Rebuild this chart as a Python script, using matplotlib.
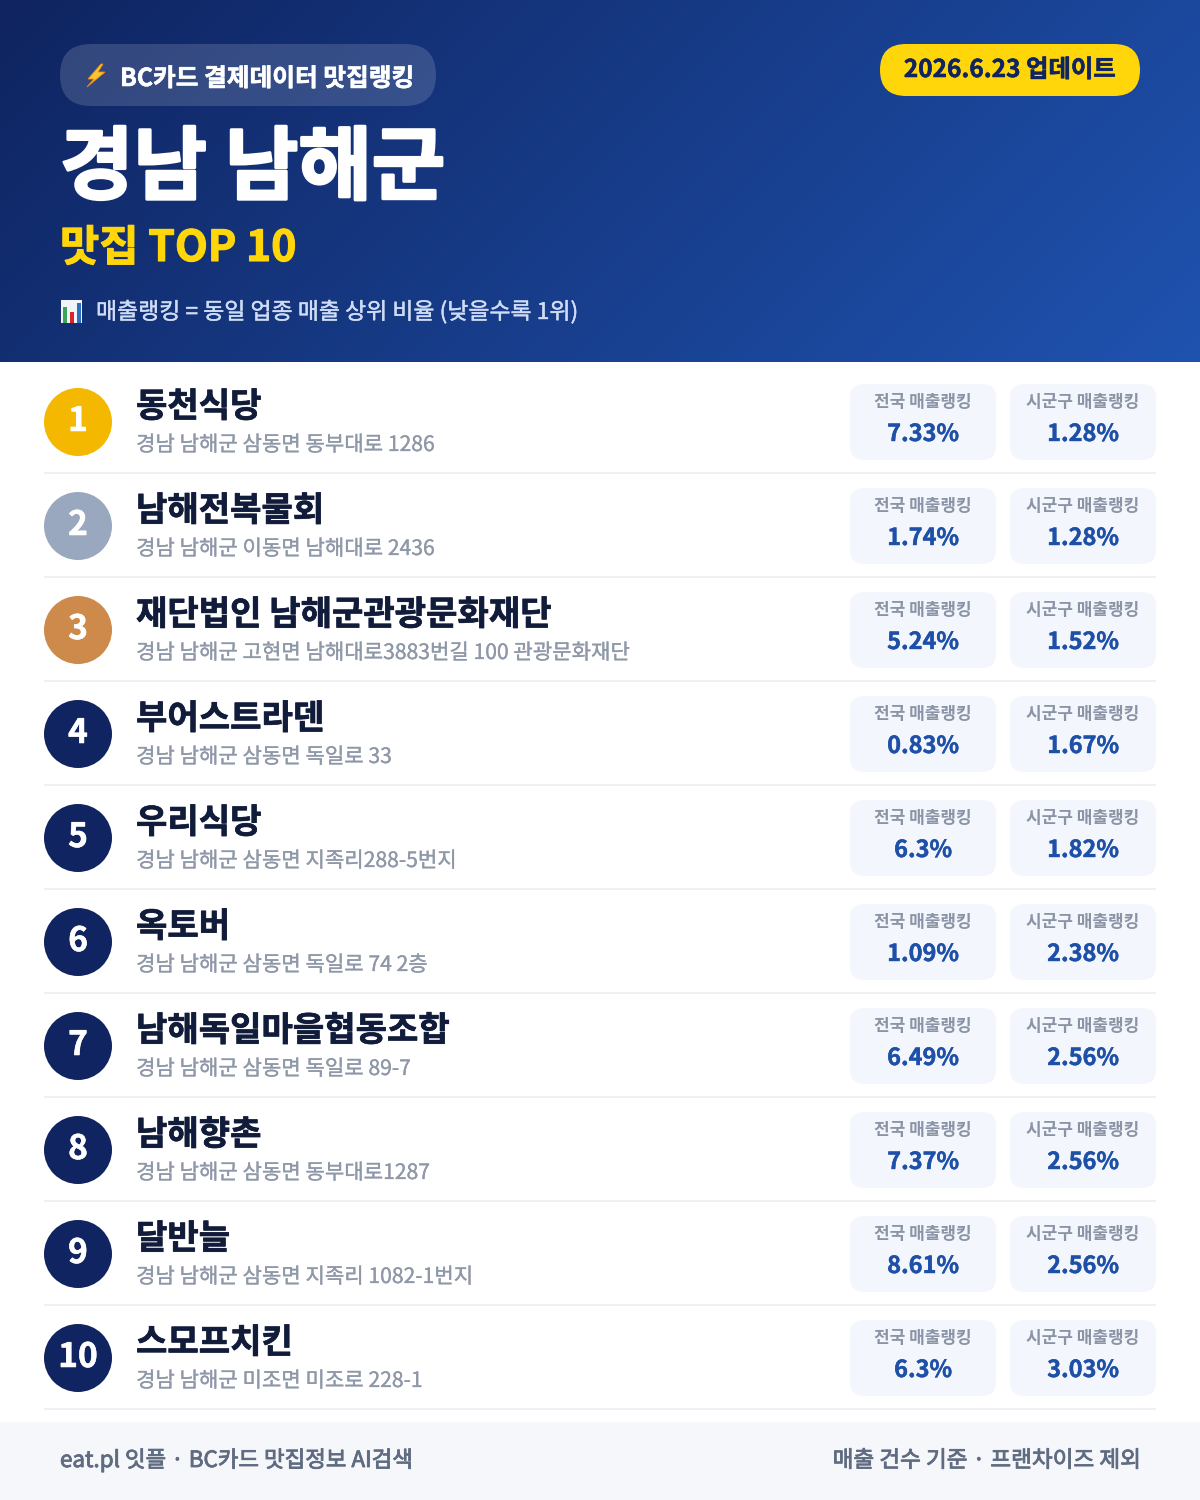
import numpy as np
import matplotlib
matplotlib.use("Agg")
import matplotlib.pyplot as plt
import matplotlib.patheffects as pe
from matplotlib.patches import Circle, FancyBboxPatch, Polygon, Rectangle

plt.rcParams['font.family'] = ['Noto Sans CJK KR', 'DejaVu Sans']

# data
ranks = ["1", "2", "3", "4", "5", "6", "7", "8", "9", "10"]
names = ["동천식당", "남해전복물회", "재단법인 남해군관광문화재단", "부어스트라덴", "우리식당",
         "옥토버", "남해독일마을협동조합", "남해향촌", "달반늘", "스모프치킨"]
addresses = ["경남 남해군 삼동면 동부대로 1286", "경남 남해군 이동면 남해대로 2436",
             "경남 남해군 고현면 남해대로3883번길 100 관광문화재단", "경남 남해군 삼동면 독일로 33",
             "경남 남해군 삼동면 지족리288-5번지", "경남 남해군 삼동면 독일로 74 2층",
             "경남 남해군 삼동면 독일로 89-7", "경남 남해군 삼동면 동부대로1287",
             "경남 남해군 삼동면 지족리 1082-1번지", "경남 남해군 미조면 미조로 228-1"]
national = ["7.33%", "1.74%", "5.24%", "0.83%", "6.3%", "1.09%", "6.49%", "7.37%", "8.61%", "6.3%"]
local = ["1.28%", "1.28%", "1.52%", "1.67%", "1.82%", "2.38%", "2.56%", "2.56%", "2.56%", "3.03%"]

NAVY = "#0f2460"
BLUE = "#1e50a8"
badge_colors = ["#f4b800", "#9aa8bf", "#cd8a4a"] + [NAVY] * 7


def px(size):
    # css pixels to points at dpi 100
    return size * 0.72


def round_box(ax, x0, y0, x1, y1, r, **kw):
    box = FancyBboxPatch((x0 + r, y0 + r), x1 - x0 - 2 * r, y1 - y0 - 2 * r,
                         boxstyle=f"round,pad={r},rounding_size={r}", linewidth=0, **kw)
    ax.add_patch(box)
    return box


def label(ax, x, y, s, size, color, weight="regular", ha="left", heavy=0):
    # heavy thickens the strokes a little, the font has no weight that fits
    t = ax.text(x, y, s, fontsize=px(size), fontweight=weight, color=color, ha=ha, va="baseline", zorder=3)
    if heavy:
        t.set_path_effects([pe.withStroke(linewidth=heavy, foreground=color)])
    return t


fig = plt.figure(figsize=(12, 15), dpi=100, facecolor="white")
ax = fig.add_axes([0, 0, 1, 1])

# header gradient, 135deg
w, h = 1200, 362
yy, xx = np.mgrid[0:h, 0:w]
t = (xx + yy) / (w + h)
c0 = np.array(matplotlib.colors.to_rgb(NAVY))
c1 = np.array(matplotlib.colors.to_rgb("#1f53b0"))
grad = c0 + (c1 - c0) * t[..., None]
ax.imshow(grad, extent=(0, w, h, 0), aspect="auto", zorder=0)
ax.set_xlim(0, 1200)
ax.set_ylim(1500, 0)
ax.axis("off")

# top pill with lightning
round_box(ax, 60, 44, 436, 106, 31, facecolor="white", alpha=0.15, zorder=1)
ax.add_patch(Polygon([(101, 64), (88, 79), (94, 79), (87, 87), (105, 72), (98, 72), (103, 64)],
                     closed=True, facecolor="#fbc531", edgecolor="#e8901a", linewidth=0.6, zorder=2))
label(ax, 120, 86, "BC카드 결제데이터 맛집랭킹", 24.7, "white", "bold", heavy=0.4)

# date pill
round_box(ax, 880, 44, 1140, 96, 26, facecolor="#ffd60a", zorder=1)
label(ax, 1010, 77, "2026.6.23 업데이트", 24.4, NAVY, "bold", ha="center", heavy=0.4)

# titles
label(ax, 60, 193, "경남 남해군", 79.8, "white", "bold", heavy=2)
label(ax, 60, 261, "맛집 TOP 10", 42.7, "#ffd60a", "bold", heavy=0.8)

# bar chart icon
ax.add_patch(Rectangle((61, 300), 21, 23, facecolor="#f2f5f8", zorder=2))
ax.add_patch(Rectangle((63, 307), 4, 16, facecolor="#3aa655", zorder=3))
ax.add_patch(Rectangle((70, 312), 4, 11, facecolor="#d8262c", zorder=3))
ax.add_patch(Rectangle((77, 303), 4, 20, facecolor="#2d6fc0", zorder=3))
label(ax, 96, 319, "매출랭킹 = 동일 업종 매출 상위 비율 (낮을수록 1위)", 22.9, "#cfdcf5", heavy=0.3)

# rows
for i in range(len(names)):
    y = 104 * i
    ax.add_patch(Circle((78, 422 + y), 34, facecolor=badge_colors[i], linewidth=0, zorder=2))
    label(ax, 78, 431 + y, ranks[i], 33.5, "white", "bold", ha="center", heavy=0.4)
    label(ax, 136, 417 + y, names[i], 34.1, "#111b3a", "bold", heavy=0.5)
    label(ax, 136, 451 + y, addresses[i], 21.1, "#8f98a8", heavy=0.2)

    for x0, x1, card_label, value in [(850, 996, "전국 매출랭킹", national[i]),
                                      (1010, 1156, "시군구 매출랭킹", local[i])]:
        round_box(ax, x0, 384 + y, x1, 460 + y, 14, facecolor="#f3f6fc", zorder=1)
        mid = (x0 + x1) / 2
        label(ax, mid, 407 + y, card_label, 17, "#8a94a6", "bold", ha="center")
        label(ax, mid, 441 + y, value, 23.5, BLUE, "bold", ha="center", heavy=0.3)

    ax.add_patch(Rectangle((44, 472 + y), 1112, 2, facecolor="#eef0f4", linewidth=0, zorder=1))

# footer
ax.add_patch(Rectangle((0, 1422), 1200, 78, facecolor="#f5f7fb", linewidth=0, zorder=1))
label(ax, 60, 1467, "eat.pl 잇플 · BC카드 맛집정보 AI검색", 22.4, "#5f6b80", heavy=0.6)
label(ax, 1140, 1467, "매출 건수 기준 · 프랜차이즈 제외", 22.6, "#5f6b80", ha="right", heavy=0.6)

fig.savefig("out.png", dpi=100)
plt.close(fig)
